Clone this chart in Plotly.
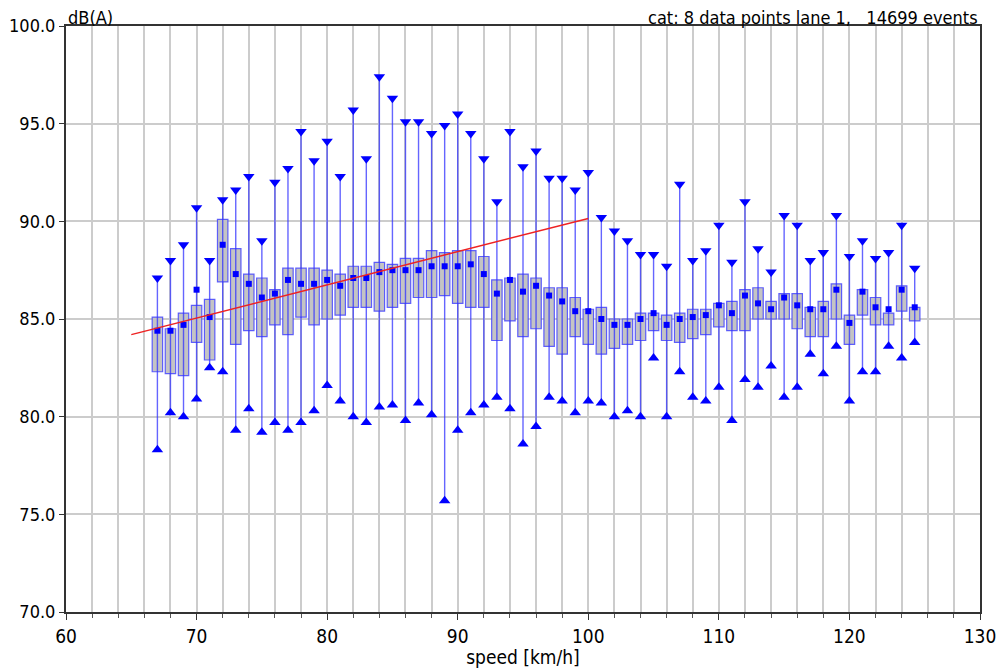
import plotly.graph_objects as go

# Speed classes (km/h)
speed = list(range(67, 126))

# Per-class statistics, dB(A)
level_max = [87.1, 88.0, 88.8, 90.7, 88.0, 91.1, 91.6, 92.3, 89.0, 92.0,
             92.7, 94.6, 93.1, 94.1, 92.3, 95.7, 93.2, 97.4, 96.3, 95.1,
             95.1, 94.5, 94.9, 95.5, 94.5, 93.2, 91.0, 94.6, 92.8, 93.6,
             92.2, 92.2, 91.6, 92.5, 90.2, 89.5, 89.0, 88.3, 88.3, 87.7,
             91.9, 88.0, 88.5, 89.8, 87.9, 91.0, 88.6, 87.4, 90.3, 89.8,
             88.0, 88.4, 90.3, 88.2, 89.0, 88.1, 88.4, 89.8, 87.6]
level_q3 = [85.1, 84.5, 85.3, 85.7, 86.0, 90.1, 88.6, 87.3, 87.1, 86.5,
            87.6, 87.6, 87.6, 87.5, 87.3, 87.7, 87.7, 87.9, 87.8, 88.1,
            88.1, 88.5, 88.4, 88.5, 88.5, 88.2, 87.0, 87.1, 87.3, 87.1,
            86.6, 86.6, 86.1, 85.5, 85.6, 85.0, 85.0, 85.3, 85.3, 85.2,
            85.3, 85.5, 85.5, 85.8, 85.9, 86.5, 86.6, 85.9, 86.3, 86.3,
            85.6, 85.9, 86.8, 85.2, 86.5, 86.1, 85.3, 86.7, 85.6]
level_mean = [84.4, 84.4, 84.7, 86.5, 85.1, 88.8, 87.3, 86.8, 86.1, 86.3,
              87.0, 86.8, 86.8, 87.0, 86.7, 87.1, 87.1, 87.4, 87.5, 87.5,
              87.5, 87.7, 87.7, 87.7, 87.8, 87.3, 86.3, 87.0, 86.4, 86.7,
              86.2, 85.9, 85.4, 85.4, 85.0, 84.7, 84.7, 85.0, 85.3, 84.7,
              85.0, 85.1, 85.2, 85.7, 85.3, 86.2, 85.8, 85.5, 86.1, 85.7,
              85.5, 85.5, 86.5, 84.8, 86.4, 85.6, 85.5, 86.5, 85.6]
level_q1 = [82.3, 82.2, 82.1, 83.8, 82.9, 86.9, 83.7, 84.4, 84.1, 84.7,
            84.2, 85.1, 84.7, 85.0, 85.2, 85.6, 85.6, 85.4, 85.6, 85.8,
            86.1, 86.1, 86.2, 85.8, 85.6, 85.6, 83.9, 84.9, 84.1, 84.5,
            83.6, 83.2, 84.1, 83.7, 83.2, 83.5, 83.7, 83.9, 84.4, 83.9,
            83.8, 84.0, 84.2, 84.6, 84.4, 84.4, 85.0, 85.0, 85.0, 84.5,
            84.1, 84.1, 85.0, 83.7, 85.2, 84.7, 84.7, 85.4, 84.9]
level_min = [78.3, 80.2, 80.0, 80.9, 82.5, 82.3, 79.3, 80.4, 79.2, 79.7,
             79.3, 79.7, 80.3, 81.6, 80.8, 80.0, 79.7, 80.5, 80.6, 79.8,
             80.7, 80.1, 75.7, 79.3, 80.2, 80.6, 81.0, 80.4, 78.6, 79.5,
             81.0, 80.8, 80.2, 80.8, 80.7, 80.0, 80.3, 80.0, 83.0, 80.0,
             82.3, 81.0, 80.8, 81.5, 79.8, 81.9, 81.5, 82.6, 81.0, 81.5,
             83.2, 82.2, 83.6, 80.8, 82.3, 82.3, 83.6, 83.0, 83.8]

# Regression line end points
trend_speed = [65, 100]
trend_level = [84.2, 90.15]

BLUE = "#0000ff"
BOX_EDGE = "rgba(60,60,255,0.8)"
WHISKER = "rgba(50,50,255,0.75)"

fig = go.Figure()

# Inter-quartile boxes
fig.add_trace(go.Bar(
    x=speed,
    y=[h - l for h, l in zip(level_q3, level_q1)],
    base=level_q1,
    width=0.8,
    marker=dict(color="#c4c4c4", line=dict(color=BOX_EDGE, width=1.2)),
    hoverinfo="skip",
))

# Whiskers from min to max
wx, wy = [], []
for s, lo, hi in zip(speed, level_min, level_max):
    wx += [s, s, None]
    wy += [lo, hi, None]
fig.add_trace(go.Scatter(x=wx, y=wy, mode="lines",
                         line=dict(color=WHISKER, width=1.4),
                         hoverinfo="skip"))

# Max / min markers
fig.add_trace(go.Scatter(x=speed, y=level_max, mode="markers",
                         marker=dict(symbol="triangle-down", size=10, color=BLUE)))
fig.add_trace(go.Scatter(x=speed, y=level_min, mode="markers",
                         marker=dict(symbol="triangle-up", size=10, color=BLUE)))

# Mean values
fig.add_trace(go.Scatter(x=speed, y=level_mean, mode="markers",
                         marker=dict(symbol="square", size=6, color=BLUE)))

# Trend line
fig.add_trace(go.Scatter(x=trend_speed, y=trend_level, mode="lines",
                         line=dict(color="#ee2222", width=1.5)))

FONT = "DejaVu Sans Condensed, Liberation Sans Narrow, Arial Narrow, sans-serif"
GRID = "#cccccc"

fig.update_layout(
    width=998, height=668,
    margin=dict(l=66, r=18, t=26, b=56, autoexpand=False),
    paper_bgcolor="white", plot_bgcolor="white",
    showlegend=False,
    barmode="overlay",
    font=dict(family=FONT, size=19, color="#000000"),
    xaxis=dict(
        range=[60, 130], dtick=10, tick0=60, automargin=False,
        showgrid=True, gridcolor=GRID, gridwidth=1.5,
        ticks="outside", ticklen=6, tickcolor="#333333",
        tickfont=dict(size=19),
        minor=dict(dtick=2, showgrid=True, gridcolor=GRID, gridwidth=1.5,
                   ticks="outside", ticklen=4, tickcolor="#555555"),
        showline=True, linecolor="#333333", linewidth=2, mirror=True,
        zeroline=False,
        title=dict(text="speed [km/h]", standoff=2, font=dict(size=19)),
    ),
    yaxis=dict(
        range=[70, 100], dtick=5, tick0=70, tickformat=".1f", automargin=False,
        showgrid=True, gridcolor=GRID, gridwidth=1.5,
        ticks="outside", ticklen=5, tickcolor="#333333",
        tickfont=dict(size=18),
        showline=True, linecolor="#333333", linewidth=2, mirror=True,
        zeroline=False,
    ),
    annotations=[
        dict(text="dB(A)", xref="paper", yref="paper", x=0, y=1,
             xanchor="left", yanchor="bottom", showarrow=False,
             font=dict(size=18), yshift=-4),
        dict(text="cat: 8 data points lane 1,   14699 events",
             xref="paper", yref="paper", x=1, y=1,
             xanchor="right", yanchor="bottom", showarrow=False,
             font=dict(size=18), yshift=-4),
    ],
)

fig.write_html("out.html")
